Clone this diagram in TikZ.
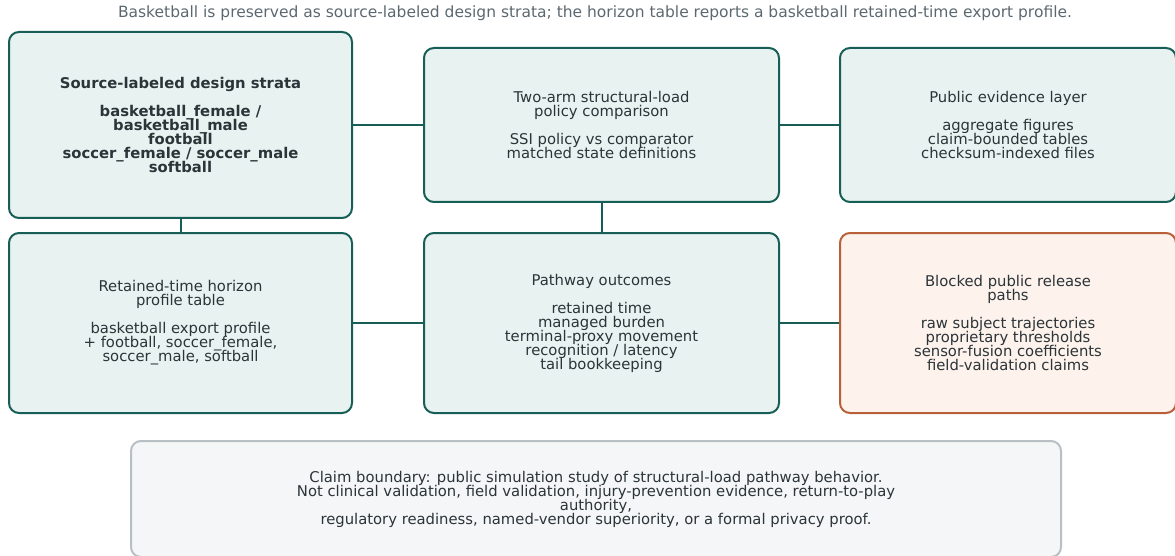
\documentclass[tikz,border=0pt]{standalone}
\usepackage{fontspec}
\setmainfont{DejaVu Sans}
\usepackage{tikz}
\usetikzlibrary{positioning,calc}
\definecolor{PathTeal}{RGB}{22,94,86}
\definecolor{PaleTeal}{RGB}{232,243,241}
\definecolor{RustEdge}{RGB}{184,96,58}
\definecolor{PaleRust}{RGB}{253,242,236}
\definecolor{EdgeGray}{RGB}{184,192,198}
\definecolor{PaleGray}{RGB}{244,246,247}
\definecolor{InkGray}{RGB}{43,52,56}
\definecolor{SubGray}{RGB}{92,104,112}
\newcommand{\cardfont}{\fontsize{14.8}{14}\selectfont\lineskiplimit=-\maxdimen}
\tikzset{
  card/.style={draw=PathTeal,fill=PaleTeal,line width=2pt,rounded corners=10pt,
    inner sep=0pt,align=center,text=InkGray,font=\cardfont},
  blockcard/.style={card,draw=RustEdge,fill=PaleRust},
  notecard/.style={card,draw=EdgeGray,fill=PaleGray},
  link/.style={draw=PathTeal,line width=2pt},
}

\begin{document}
\begin{tikzpicture}[x=1pt,y=-1pt]
\useasboundingbox (0,0) rectangle (1175,556);
\node[text=SubGray,font=\fontsize{15.5}{15}\selectfont] (sub) at (595,13)
  {Basketball is preserved as source-labeled design strata; the horizon table reports a basketball retained-time export profile.};
% top row
\node[card,minimum width=343pt,minimum height=186pt,font=\cardfont\bfseries] (strata) at (180.5,125)
  {Source-labeled design strata\\[14pt]basketball\_female /\\basketball\_male\\football\\soccer\_female / soccer\_male\\softball};
\node[card,minimum width=355pt,minimum height=154pt] (policy) at (601.5,125)
  {Two-arm structural-load\\policy comparison\\[14pt]SSI policy vs comparator\\matched state definitions};
\node[card,minimum width=336pt,minimum height=154pt] (evidence) at (1008,125)
  {Public evidence layer\\[14pt]aggregate figures\\claim-bounded tables\\checksum-indexed files};
% bottom row
\node[card,minimum width=343pt,minimum height=180pt] (horizon) at (180.5,323)
  {Retained-time horizon\\profile table\\[14pt]basketball export profile\\+ football, soccer\_female,\\soccer\_male, softball};
\node[card,minimum width=355pt,minimum height=180pt] (outcomes) at (601.5,323)
  {Pathway outcomes\\[14pt]retained time\\managed burden\\terminal-proxy movement\\recognition / latency\\tail bookkeeping};
\node[blockcard,minimum width=336pt,minimum height=180pt] (blocked) at (1008,323)
  {Blocked public release\\paths\\[14pt]raw subject trajectories\\proprietary thresholds\\sensor-fusion coefficients\\field-validation claims};
\node[notecard,minimum width=930pt,minimum height=116pt] (claim) at (596,499)
  {Claim boundary: public simulation study of structural-load pathway behavior.\\Not clinical validation, field validation, injury-prevention evidence, return-to-play\\authority,\\regulatory readiness, named-vendor superiority, or a formal privacy proof.};
% links
\draw[link] (strata.east) -- (policy.west);
\draw[link] (policy.east) -- (evidence.west);
\draw[link] (strata.south) -- (horizon.north);
\draw[link] (policy.south) -- (outcomes.north);
\draw[link] (horizon.east) -- (outcomes.west);
\draw[link] (outcomes.east) -- (blocked.west);
\end{tikzpicture}
\end{document}
